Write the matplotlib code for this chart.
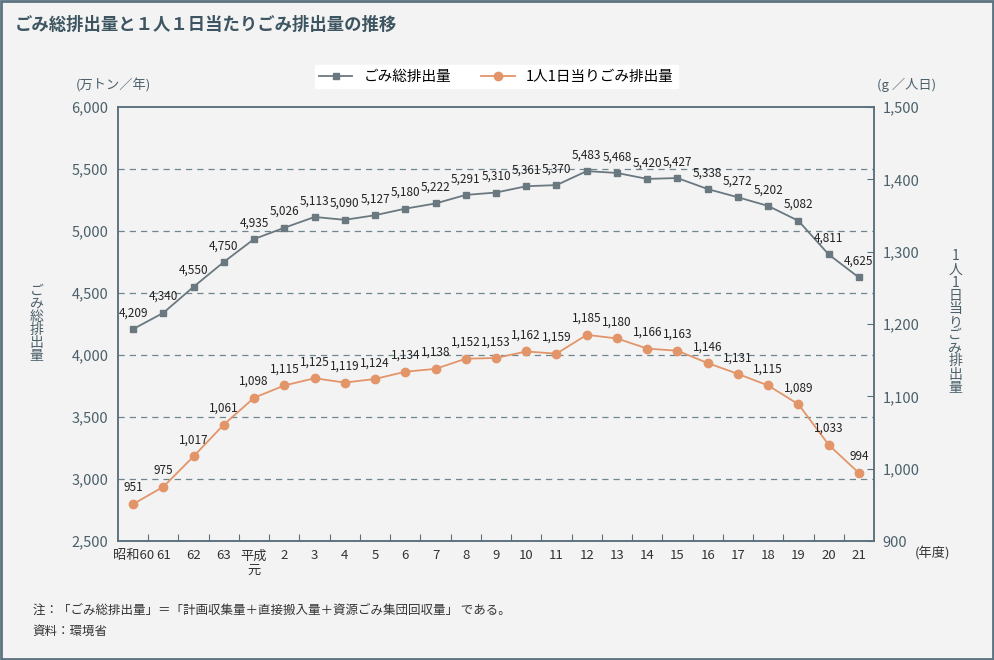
# -*- coding: utf-8 -*-
import matplotlib
matplotlib.use('Agg')
import matplotlib.pyplot as plt
from matplotlib.patches import Rectangle

plt.rcParams['font.family'] = ['Noto Sans CJK JP', 'DejaVu Sans']

years = ['昭和60', '61', '62', '63', '平成\n元', '2', '3', '4', '5', '6', '7', '8', '9', '10',
         '11', '12', '13', '14', '15', '16', '17', '18', '19', '20', '21']
total = [4209, 4340, 4550, 4750, 4935, 5026, 5113, 5090, 5127, 5180, 5222, 5291, 5310, 5361,
         5370, 5483, 5468, 5420, 5427, 5338, 5272, 5202, 5082, 4811, 4625]
per_person = [951, 975, 1017, 1061, 1098, 1115, 1125, 1119, 1124, 1134, 1138, 1152, 1153, 1162,
              1159, 1185, 1180, 1166, 1163, 1146, 1131, 1115, 1089, 1033, 994]
left_ticks = [2500, 3000, 3500, 4000, 4500, 5000, 5500, 6000]
right_ticks = [900, 1000, 1100, 1200, 1300, 1400, 1500]

gray = '#6a7880'
orange = '#e3956a'
axcol = '#5a707b'
txtcol = '#4b606b'
bg = '#f3f3f3'

fig = plt.figure(figsize=(9.94, 6.6), dpi=100, facecolor=bg)
ax = fig.add_axes([0.1187, 0.1803, 0.7606, 0.6576])
ax.set_facecolor(bg)
ax2 = ax.twinx()

x = list(range(len(years)))
n = len(years)

ax.plot(x, total, color=gray, lw=1.3, marker='s', ms=5, zorder=3, label='ごみ総排出量')
ax2.plot(x, per_person, color=orange, lw=1.3, marker='o', ms=6, zorder=3, label='1人1日当りごみ排出量')

# data labels
for xi, v in zip(x, total):
    ax.annotate('{:,}'.format(v), (xi, v), xytext=(0, 7), textcoords='offset points',
                ha='center', va='bottom', fontsize=8.5, color='#222222')
for xi, v in zip(x, per_person):
    ax2.annotate('{:,}'.format(v), (xi, v), xytext=(0, 7), textcoords='offset points',
                 ha='center', va='bottom', fontsize=8.5, color='#222222')

ax.set_xlim(-0.5, n - 0.5)
ax.set_ylim(2500, 6000)
ax2.set_ylim(900, 1500)

for yv in left_ticks[1:-1]:
    ax.axhline(yv, color='#6f8590', lw=0.9, ls=(0, (5, 4)), zorder=1)

ax.set_yticks(left_ticks)
ax.set_yticklabels(['{:,}'.format(t) for t in left_ticks], fontsize=10.5, color=txtcol)
ax.tick_params(axis='y', length=0, pad=7)
ax2.set_yticks(right_ticks)
ax2.set_yticklabels(['{:,}'.format(t) for t in right_ticks], fontsize=10.5, color=txtcol)
ax2.tick_params(axis='y', direction='in', length=5, color=axcol, pad=6)

# ticks between categories, labels at centers
ax.set_xticks([i + 0.5 for i in range(n - 1)])
ax.set_xticklabels([])
ax.tick_params(axis='x', direction='in', length=5, color=axcol)
ax.set_xticks(x, minor=True)
ax.set_xticklabels(years, minor=True, fontsize=9.5, color='#333333', va='top', linespacing=1.1)
ax.tick_params(axis='x', which='minor', length=0, pad=6)

for a in (ax, ax2):
    for s in a.spines.values():
        s.set_color(axcol)
        s.set_linewidth(1.1)

fig.legend(loc='upper center', bbox_to_anchor=(0.4995, 0.912), ncol=2, fontsize=10.5,
           frameon=True, facecolor='white', edgecolor='white', framealpha=1,
           borderpad=0.3, columnspacing=2.0, handlelength=2.3, fancybox=False)

fig.text(0.015, 0.962, 'ごみ総排出量と１人１日当たりごみ排出量の推移', fontsize=12.5,
         fontweight='bold', color='#3d5561', va='center')
fig.text(0.114, 0.871, '(万トン／年)', fontsize=9.5, color=txtcol, ha='center', va='center')
fig.text(0.912, 0.871, '(g ／人日)', fontsize=9.5, color=txtcol, ha='center', va='center')
fig.text(0.938, 0.162, '(年度)', fontsize=9.5, color='#333333', ha='center', va='center')
fig.text(0.037, 0.51, '\n'.join('ごみ総排出量'), fontsize=10, color=txtcol, ha='center',
         va='center', linespacing=0.92)
fig.text(0.961, 0.512, '\n'.join('1人1日当りごみ排出量'), fontsize=10, color=txtcol,
         ha='center', va='center', linespacing=0.92)
fig.text(0.033, 0.076, '注：「ごみ総排出量」＝「計画収集量＋直接搬入量＋資源ごみ集団回収量」 である。',
         fontsize=9, color='#333333', va='center')
fig.text(0.033, 0.044, '資料：環境省', fontsize=9, color='#333333', va='center')

fig.patches.append(Rectangle((0.001, 0.0015), 0.998, 0.997, transform=fig.transFigure,
                             fill=False, edgecolor='#5b7380', lw=2, zorder=10))

fig.savefig('out.png', dpi=100, facecolor=bg)
